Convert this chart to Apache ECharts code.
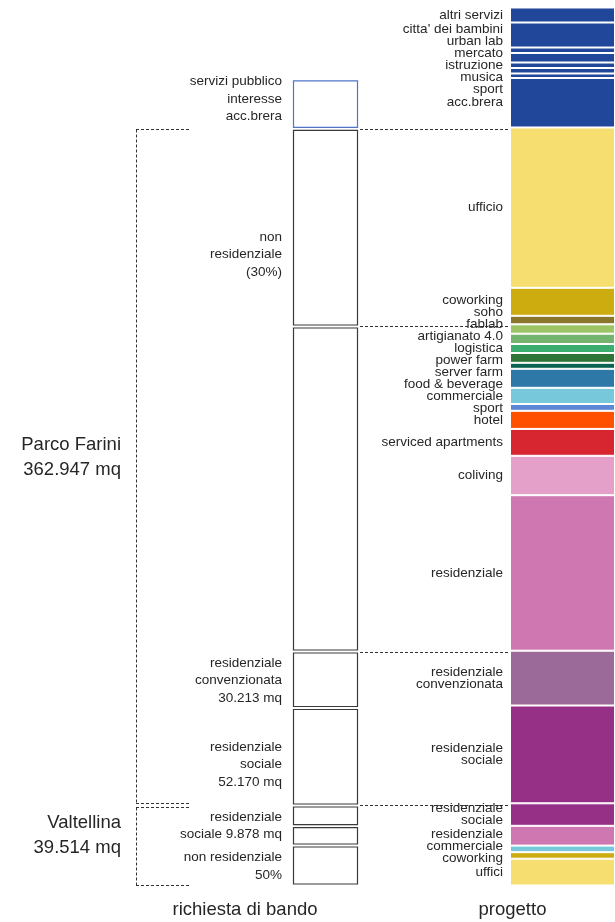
<!DOCTYPE html>
<html>
<head>
<meta charset="utf-8">
<script src="https://cdn.jsdelivr.net/npm/echarts@6/dist/echarts.min.js"></script>
<style>
  html, body { margin: 0; padding: 0; background: #fff; }
  #chart { width: 615px; height: 922px; }
</style>
</head>
<body>
<div id="chart"></div>
<script>
// column names
var columns = ['richiesta di bando', 'progetto'];

// richiesta di bando, top to bottom (mq)
var richiestaLabels = [
  'servizi pubblico\ninteresse\nacc.brera',
  'non\nresidenziale\n(30%)',
  '',
  'residenziale\nconvenzionata\n30.213 mq',
  'residenziale\nsociale\n52.170 mq',
  'residenziale\nsociale 9.878 mq',
  '',
  'non residenziale\n50%'
];
var richiestaValues = [26500, 105700, 173900, 30213, 52170, 11000, 10400, 21400];

// progetto, top to bottom (mq)
var progettoLabels = [
  'altri servizi', "citta' dei bambini", 'urban lab', 'mercato', 'istruzione', 'musica', 'sport', 'acc.brera',
  'ufficio', 'coworking', 'soho', 'fablab', 'artigianato 4.0', 'logistica', 'power farm', 'server farm',
  'food & beverage', 'commerciale', 'sport', 'hotel', 'serviced apartments', 'coliving', 'residenziale',
  'residenziale\nconvenzionata', 'residenziale\nsociale',
  'residenziale\nsociale', 'residenziale', 'commerciale', 'coworking', 'uffici'
];
var progettoValues = [
  8030, 13380, 2940, 5080, 2940, 2940, 2410, 26480,
  85760, 14980, 4550, 5030, 5510, 4820, 5240, 3210,
  10170, 8670, 3640, 9680, 14390, 21080, 83190,
  29320, 52320,
  12040, 10590, 3530, 3480, 14340
];

// area totals
var areaLabels = ['Parco Farini\n362.947 mq', 'Valtellina\n39.514 mq'];

// styles
var BLUE = '#21479a';
var progettoColors = [
  BLUE, BLUE, BLUE, BLUE, BLUE, BLUE, BLUE, BLUE,
  '#f6df70', '#ccac0f', '#8a772b', '#9cc464', '#74b46e', '#3bae6f', '#2c7534', '#0a6351',
  '#2e78a8', '#78c8dc', '#5b87d6', '#ff5000', '#d7262f', '#e5a0c9', '#cf77b0',
  '#9c6a99', '#963087',
  '#963087', '#cf77b0', '#78c8dc', '#ccac0f', '#f6df70'
];
var richiestaBorders = ['#4f74c8', '#3a3a3a', '#3a3a3a', '#3a3a3a', '#3a3a3a', '#3a3a3a', '#3a3a3a', '#3a3a3a'];
var richiestaLabelNudge = [-5, 27, 0, 1, 8, 10, 0, 1];

var FONT = '"Liberation Sans", Arial, Helvetica, sans-serif';
var TEXT = '#262626';

function sum(a) { return a.reduce(function (s, v) { return s + v; }, 0); }
var total = sum(progettoValues);

// cumulative bottoms (stack grows from the bottom)
function bottoms(values) {
  var lo = [], acc = 0;
  for (var i = values.length - 1; i >= 0; i--) { lo[i] = acc; acc += values[i]; }
  return lo;
}
var rLo = bottoms(richiestaValues);
var pLo = bottoms(progettoValues);

var rData = richiestaValues.map(function (v, i) { return [0, rLo[i], rLo[i] + v, i]; });

function renderRichiesta(params, api) {
  var i = api.value(3);
  var lo = api.coord([0, api.value(1)]);
  var hi = api.coord([0, api.value(2)]);
  var w = api.size([1, 0])[0];
  var x = lo[0] - w / 2;
  var yTop = hi[1] + 1.5, yBot = lo[1] - 1.5;
  var children = [{
    type: 'rect',
    shape: { x: x + 0.5, y: yTop, width: w - 1, height: yBot - yTop },
    style: { fill: '#fff', stroke: richiestaBorders[i], lineWidth: 1.2 }
  }];
  if (richiestaLabels[i]) {
    children.push({
      type: 'text',
      x: x - 11,
      y: (yTop + yBot) / 2 + richiestaLabelNudge[i],
      style: {
        text: richiestaLabels[i], align: 'right', verticalAlign: 'middle',
        fontSize: 13.5, fontFamily: FONT, lineHeight: 17.5, fill: TEXT
      }
    });
  }
  return { type: 'group', children: children };
}

var pSeries = [];
for (var i = progettoValues.length - 1; i >= 0; i--) {
  pSeries.push({
    type: 'bar',
    name: progettoLabels[i],
    xAxisIndex: 1,
    yAxisIndex: 1,
    stack: 'progetto',
    barWidth: '100%',
    data: [progettoValues[i]],
    itemStyle: { color: progettoColors[i], borderColor: '#fff', borderWidth: 1 },
    label: {
      show: true, position: 'left', distance: 7,
      formatter: progettoLabels[i],
      fontSize: 13.5, fontFamily: FONT, lineHeight: 12, color: TEXT,
      offset: [0, 0]
    },
    emphasis: { disabled: true },
    silent: true
  });
}

function axisLabel(shift) {
  return {
    interval: 0,
    margin: 15,
    formatter: function (v) { return '{a|' + v + '}'; },
    rich: { a: { fontSize: 18.5, fontFamily: FONT, color: TEXT, padding: [0, shift, 0, 0] } }
  };
}

var option = {
  animation: false,
  backgroundColor: '#fff',
  grid: [
    { left: 293, width: 65, top: 7.5, bottom: 36.5 },
    { left: 510, right: 0, top: 7.5, bottom: 36.5 }
  ],
  xAxis: [
    { type: 'category', gridIndex: 0, data: [columns[0]], axisLine: { show: false }, axisTick: { show: false }, axisLabel: axisLabel(161) },
    { type: 'category', gridIndex: 1, data: [columns[1]], axisLine: { show: false }, axisTick: { show: false }, axisLabel: axisLabel(100) }
  ],
  yAxis: [
    { type: 'value', gridIndex: 0, min: 0, max: total, show: false },
    { type: 'value', gridIndex: 1, min: 0, max: total, show: false }
  ],
  series: [{
    type: 'custom',
    xAxisIndex: 0,
    yAxisIndex: 0,
    renderItem: renderRichiesta,
    encode: { x: 0, y: [1, 2] },
    data: rData,
    silent: true
  }].concat(pSeries)
};

var chart = echarts.init(document.getElementById('chart'), null, { renderer: 'canvas' });
chart.setOption(option);

// spread progetto labels so they do not overlap
function py(grid, v) { return chart.convertToPixel({ gridIndex: grid }, [0, v])[1]; }

var items = progettoValues.map(function (v, k) {
  return { want: py(1, pLo[k] + v / 2), h: progettoLabels[k].split('\n').length * 12 };
});
function place(c) {
  var off = 0, s = 0;
  c.list.forEach(function (it) { it.rel = off + it.h / 2; s += it.want - it.rel; off += it.h; });
  c.top = s / c.list.length;
  c.h = off;
}
var clusters = items.map(function (it) { var c = { list: [it] }; place(c); return c; });
var merged = true;
while (merged) {
  merged = false;
  for (var k = 0; k < clusters.length - 1; k++) {
    if (clusters[k].top + clusters[k].h > clusters[k + 1].top + 0.01) {
      clusters[k].list = clusters[k].list.concat(clusters[k + 1].list);
      place(clusters[k]);
      clusters.splice(k + 1, 1);
      merged = true;
      break;
    }
  }
}
clusters.forEach(function (c) { c.list.forEach(function (it) { it.y = c.top + it.rel; }); });
pSeries.forEach(function (s, j) {
  var idx = progettoValues.length - 1 - j;
  s.label.offset = [0, items[idx].y - items[idx].want];
});

// dashed guides and area names
var yFarTop = py(0, rLo[0]);
var yNonRes = py(0, rLo[1]);
var yRes = py(0, rLo[2]);
var yFarBot = py(0, rLo[4]);
var yValBot = py(0, 0);

var dash = { stroke: '#333', lineWidth: 1, lineDash: [3, 2] };
function hline(x1, x2, y) {
  y = Math.round(y) + 0.5;
  return { type: 'line', silent: true, shape: { x1: x1, y1: y, x2: x2, y2: y }, style: dash };
}
function vline(x, y1, y2) {
  return { type: 'line', silent: true, shape: { x1: x + 0.5, y1: y1, x2: x + 0.5, y2: y2 }, style: dash };
}
function areaText(txt, y) {
  return {
    type: 'text', silent: true, x: 121, y: y,
    style: { text: txt, align: 'right', textAlign: 'right', verticalAlign: 'middle', textVerticalAlign: 'middle',
      fontSize: 18.5, fontFamily: FONT, lineHeight: 25, fill: TEXT }
  };
}

option.graphic = [
  hline(360, 615, yFarTop),
  hline(360, 615, yNonRes),
  hline(360, 615, yRes),
  hline(360, 615, yFarBot - 1),
  hline(136, 190, yFarTop),
  vline(136, Math.round(yFarTop) + 0.5, yFarBot - 2),
  hline(136, 190, yFarBot - 2.5),
  hline(136, 190, yFarBot + 1.5),
  vline(136, yFarBot + 2, Math.round(yValBot) + 0.5),
  hline(136, 190, yValBot - 1),
  areaText(areaLabels[0], (yFarTop + yFarBot) / 2 - 10),
  areaText(areaLabels[1], (yFarBot + yValBot) / 2 - 10)
];
chart.setOption(option);
</script>
</body>
</html>
